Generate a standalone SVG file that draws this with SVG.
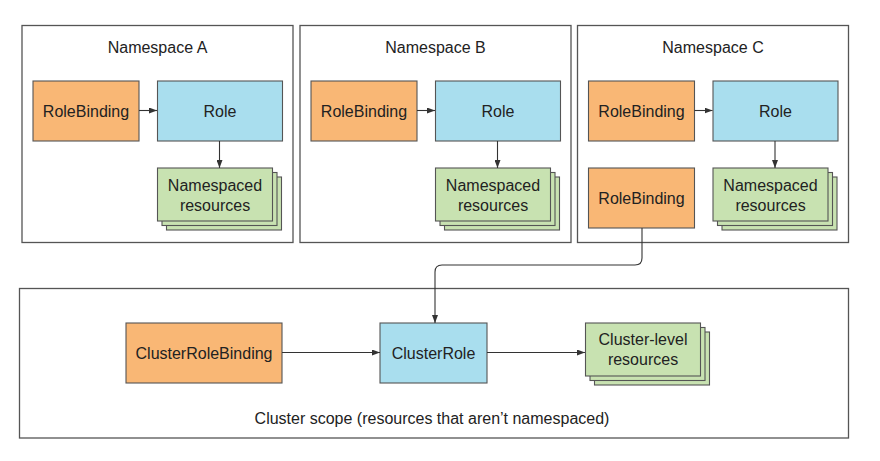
<svg xmlns="http://www.w3.org/2000/svg" width="880" height="461" viewBox="0 0 880 461">
<style>
.frame{fill:#fff;stroke:#555;stroke-width:1.3}
.rb{fill:#F9B775;stroke:#555;stroke-width:1.1}
.role{fill:#A9DEEE;stroke:#555;stroke-width:1.1}
.res{fill:#C8E2B1;stroke:#555;stroke-width:1.1}
.t{font-family:"Liberation Sans",Arial,sans-serif;font-size:16px;fill:#222;text-anchor:middle}
.c{fill:none;stroke:#333;stroke-width:1.1}
</style>
<defs>
<marker id="ah" markerWidth="8" markerHeight="6" refX="8" refY="3" orient="auto" markerUnits="userSpaceOnUse">
<path d="M0,0 L8,3 L0,6 Z" fill="#333"/>
</marker>
<g id="stack">
<rect class="res" x="9" y="9" width="115" height="53"/>
<rect class="res" x="4.5" y="4.5" width="115" height="53"/>
<rect class="res" x="0" y="0" width="115" height="53"/>
</g>
</defs>

<g id="nsA">
<rect class="frame" x="22" y="25.5" width="271" height="217"/>
<text class="t" x="157.5" y="53">Namespace A</text>
</g>
<g id="nsA-rolebinding">
<rect class="rb" x="33" y="81" width="106" height="60"/>
<text class="t" x="86" y="116.5">RoleBinding</text>
</g>
<g id="nsA-role">
<rect class="role" x="157.5" y="81" width="125" height="60"/>
<text class="t" x="220" y="116.5">Role</text>
</g>
<g id="nsA-resources">
<use href="#stack" x="157.5" y="168"/>
<text class="t" x="215" y="190.5">Namespaced</text>
<text class="t" x="215" y="210.5">resources</text>
</g>

<g id="nsB">
<rect class="frame" x="300" y="25.5" width="271" height="217"/>
<text class="t" x="435.5" y="53">Namespace B</text>
</g>
<g id="nsB-rolebinding">
<rect class="rb" x="311" y="81" width="106" height="60"/>
<text class="t" x="364" y="116.5">RoleBinding</text>
</g>
<g id="nsB-role">
<rect class="role" x="435.5" y="81" width="125" height="60"/>
<text class="t" x="498" y="116.5">Role</text>
</g>
<g id="nsB-resources">
<use href="#stack" x="435.5" y="168"/>
<text class="t" x="493" y="190.5">Namespaced</text>
<text class="t" x="493" y="210.5">resources</text>
</g>

<g id="nsC">
<rect class="frame" x="577.5" y="25.5" width="271" height="217"/>
<text class="t" x="713" y="53">Namespace C</text>
</g>
<g id="nsC-rolebinding">
<rect class="rb" x="588.5" y="81" width="106" height="60"/>
<text class="t" x="641.5" y="116.5">RoleBinding</text>
</g>
<g id="nsC-role">
<rect class="role" x="713" y="81" width="125" height="60"/>
<text class="t" x="775.5" y="116.5">Role</text>
</g>
<g id="nsC-resources">
<use href="#stack" x="713" y="168"/>
<text class="t" x="770.5" y="190.5">Namespaced</text>
<text class="t" x="770.5" y="210.5">resources</text>
</g>
<g id="nsC-rolebinding2">
<rect class="rb" x="588.5" y="168" width="106" height="60"/>
<text class="t" x="641.5" y="203.5">RoleBinding</text>
</g>

<g id="cluster">
<rect class="frame" x="19.5" y="288.5" width="829" height="149.5"/>
<text class="t" x="432" y="424">Cluster scope (resources that aren’t namespaced)</text>
</g>
<g id="clusterrolebinding">
<rect class="rb" x="126" y="323" width="156" height="60"/>
<text class="t" x="204" y="358.5">ClusterRoleBinding</text>
</g>
<g id="clusterrole">
<rect class="role" x="380" y="323" width="107" height="60"/>
<text class="t" x="433.5" y="358.5">ClusterRole</text>
</g>
<g id="cluster-resources">
<use href="#stack" x="585.5" y="323"/>
<text class="t" x="643" y="345">Cluster-level</text>
<text class="t" x="643" y="365">resources</text>
</g>

<g id="connectors">
<line class="c" x1="139" y1="110.5" x2="157" y2="110.5" marker-end="url(#ah)"/>
<line class="c" x1="219.5" y1="141" x2="219.5" y2="168" marker-end="url(#ah)"/>
<line class="c" x1="417" y1="110.5" x2="435" y2="110.5" marker-end="url(#ah)"/>
<line class="c" x1="497.5" y1="141" x2="497.5" y2="168" marker-end="url(#ah)"/>
<line class="c" x1="694.5" y1="110.5" x2="712.5" y2="110.5" marker-end="url(#ah)"/>
<line class="c" x1="775" y1="141" x2="775" y2="168" marker-end="url(#ah)"/>
<path class="c" d="M642,228 V258 Q642,265 635,265 H442 Q435,265 435,272 V323" marker-end="url(#ah)"/>
<line class="c" x1="282" y1="352.5" x2="380" y2="352.5" marker-end="url(#ah)"/>
<line class="c" x1="487" y1="352.5" x2="585" y2="352.5" marker-end="url(#ah)"/>
</g>
</svg>
